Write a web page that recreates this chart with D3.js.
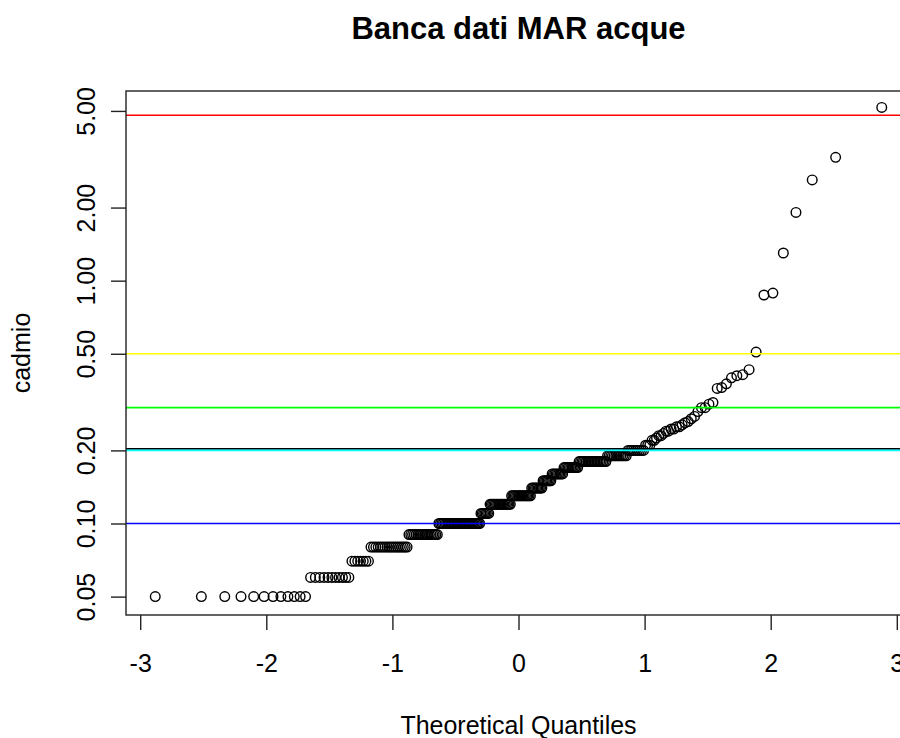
<!DOCTYPE html>
<html>
<head>
<meta charset="utf-8">
<script src="https://cdn.jsdelivr.net/npm/d3@7/dist/d3.min.js"></script>
<style>
  body { margin: 0; background: #fff; }
  text { font-family: "Liberation Sans", Arial, sans-serif; fill: #000; }
</style>
</head>
<body>
<div id="chart"></div>
<script>
// cadmio sample: repeated low values and their counts
const cadmioLevels = [0.05, 0.06, 0.07, 0.08, 0.09, 0.10, 0.11, 0.12, 0.13, 0.14, 0.15, 0.16, 0.17, 0.18, 0.19, 0.20];
const levelCounts  = [12, 11, 7, 18, 18, 30, 7, 17, 16, 9, 7, 9, 11, 19, 12, 9];
// single values of the upper tail
const upperValues = [0.21, 0.21, 0.21, 0.22, 0.22, 0.225, 0.23, 0.23, 0.235, 0.24,
  0.24, 0.245, 0.245, 0.25, 0.25, 0.255, 0.26, 0.263, 0.27, 0.276,
  0.289, 0.30, 0.30, 0.31, 0.315, 0.36, 0.363, 0.376, 0.398, 0.406,
  0.41, 0.43, 0.508, 0.873, 0.889, 1.30, 1.91, 2.60, 3.22, 5.17];

const xTicks = [-3, -2, -1, 0, 1, 2, 3];
const yTicks = [0.05, 0.10, 0.20, 0.50, 1.00, 2.00, 5.00];
// abline(h = ...) reference levels and colours
const refLevels = [4.8, 0.5, 0.3, 0.203, 0.2, 0.1];
const refColors = ["#ff0000", "#ffff00", "#00ff00", "#000000", "#00ffff", "#0000ff"];

const W = 900, H = 738;
const plotL = 126, plotT = 91, plotB = 615, plotR = 911;

// inverse normal cdf (Acklam), used for the theoretical quantiles like qnorm
function qnorm(p) {
  const a = [-39.6968302866538, 220.946098424521, -275.928510446969, 138.357751867269, -30.6647980661472, 2.50662827745924];
  const b = [-54.4760987982241, 161.585836858041, -155.698979859887, 66.8013118877197, -13.2806815528857];
  const c = [-0.00778489400243029, -0.322396458041136, -2.40075827716184, -2.54973253934373, 4.37466414146497, 2.93816398269878];
  const d = [0.00778469570904146, 0.32246712907004, 2.445134137143, 3.75440866190742];
  const pl = 0.02425;
  let q, r;
  if (p < pl) {
    q = Math.sqrt(-2 * Math.log(p));
    return (((((c[0]*q+c[1])*q+c[2])*q+c[3])*q+c[4])*q+c[5]) / ((((d[0]*q+d[1])*q+d[2])*q+d[3])*q+1);
  } else if (p <= 1 - pl) {
    q = p - 0.5; r = q * q;
    return (((((a[0]*r+a[1])*r+a[2])*r+a[3])*r+a[4])*r+a[5])*q / (((((b[0]*r+b[1])*r+b[2])*r+b[3])*r+b[4])*r+1);
  }
  q = Math.sqrt(-2 * Math.log(1 - p));
  return -(((((c[0]*q+c[1])*q+c[2])*q+c[3])*q+c[4])*q+c[5]) / ((((d[0]*q+d[1])*q+d[2])*q+d[3])*q+1);
}

const sample = [];
cadmioLevels.forEach((v, i) => { for (let k = 0; k < levelCounts[i]; k++) sample.push(v); });
upperValues.forEach(v => sample.push(v));
sample.sort((a, b) => a - b);
const n = sample.length;
const points = sample.map((v, i) => ({ q: qnorm((i + 0.5) / n), v: v }));

const x = d3.scaleLinear().domain([-3.1126, 3.1126]).range([plotL, plotR]);
const y = d3.scaleLog().domain([0.042, 6.04]).range([plotB, plotT]);

const svg = d3.select("#chart").append("svg")
  .attr("width", W).attr("height", H)
  .style("display", "block")
  .style("background", "#fff");

svg.append("defs").append("clipPath").attr("id", "plotclip")
  .append("rect").attr("x", plotL).attr("y", plotT).attr("width", plotR - plotL).attr("height", plotB - plotT);

const plot = svg.append("g").attr("clip-path", "url(#plotclip)");

plot.selectAll("circle")
  .data(points)
  .enter()
  .append("circle")
  .attr("cx", d => x(d.q))
  .attr("cy", d => y(d.v))
  .attr("r", 4.8)
  .attr("fill", "none")
  .attr("stroke", "#000")
  .attr("stroke-width", 1.4);

plot.selectAll("line.ref")
  .data(refLevels)
  .enter()
  .append("line")
  .attr("class", "ref")
  .attr("x1", plotL).attr("x2", plotR)
  .attr("y1", d => y(d)).attr("y2", d => y(d))
  .attr("stroke", (d, i) => refColors[i])
  .attr("stroke-width", 1.6);

// box
svg.append("rect")
  .attr("x", plotL).attr("y", plotT)
  .attr("width", plotR - plotL).attr("height", plotB - plotT)
  .attr("fill", "none").attr("stroke", "#222").attr("stroke-width", 1.4);

// x axis, plain hyphen minus like R
const xAxis = svg.append("g")
  .attr("transform", "translate(0," + plotB + ")")
  .call(d3.axisBottom(x).tickValues(xTicks).tickSize(15).tickPadding(24).tickSizeOuter(0).tickFormat(d => String(d)));
xAxis.select(".domain").remove();
xAxis.selectAll(".tick line").attr("stroke", "#222").attr("stroke-width", 1.4);
xAxis.selectAll(".tick text").style("font-size", "25px").attr("fill", "#000");

// y axis, labels rotated like R's las = 0
const yAxis = svg.append("g")
  .attr("transform", "translate(" + plotL + ",0)")
  .call(d3.axisLeft(y).tickValues(yTicks).tickSize(15).tickSizeOuter(0).tickFormat(d3.format(".2f")));
yAxis.select(".domain").remove();
yAxis.selectAll(".tick line").attr("stroke", "#222").attr("stroke-width", 1.4);
yAxis.selectAll(".tick text")
  .attr("x", null).attr("dy", null)
  .attr("text-anchor", "middle")
  .attr("transform", "translate(-31,0) rotate(-90)")
  .style("font-size", "25px").attr("fill", "#000");

svg.append("text")
  .attr("x", (plotL + plotR) / 2).attr("y", 39)
  .attr("text-anchor", "middle")
  .style("font-size", "31px").style("font-weight", "bold")
  .text("Banca dati MAR acque");

svg.append("text")
  .attr("x", (plotL + plotR) / 2).attr("y", 734)
  .attr("text-anchor", "middle")
  .style("font-size", "25px")
  .text("Theoretical Quantiles");

svg.append("text")
  .attr("transform", "translate(30," + ((plotT + plotB) / 2) + ") rotate(-90)")
  .attr("text-anchor", "middle")
  .style("font-size", "25px")
  .text("cadmio");
</script>
</body>
</html>
